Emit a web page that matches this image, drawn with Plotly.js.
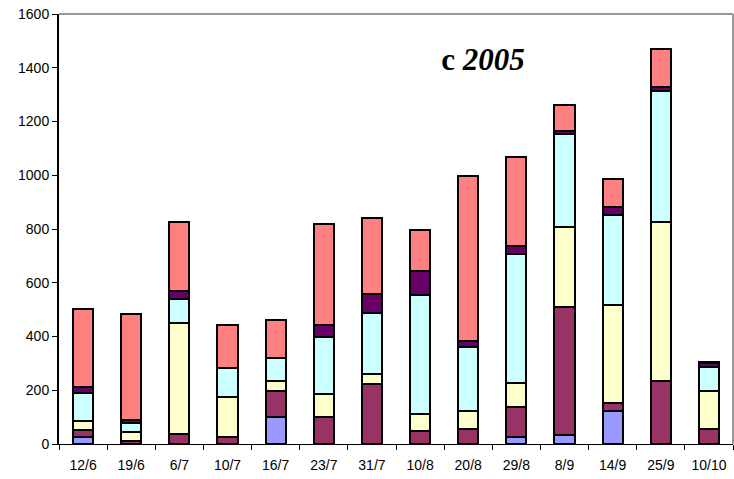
<!DOCTYPE html>
<html>
<head>
<meta charset="utf-8">
<script src="https://cdn.plot.ly/plotly-3.0.1.min.js"></script>
<style>
  html, body { margin: 0; padding: 0; background: #fff; }
  #plot { width: 734px; height: 479px; }
</style>
</head>
<body>
<div id="plot"></div>
<script>
// sampling dates
let dates = ["12/6", "19/6", "6/7", "10/7", "16/7", "23/7", "31/7", "10/8", "20/8", "29/8", "8/9", "14/9", "25/9", "10/10"];

// stacked values, bottom to top
let seriesA = [26, 0, 0, 0, 102, 0, 0, 0, 0, 27, 33, 123, 0, 0];
let seriesB = [26, 12, 36, 25, 95, 102, 222, 50, 56, 112, 478, 31, 236, 56];
let seriesC = [35, 34, 415, 151, 39, 83, 37, 62, 68, 89, 297, 363, 589, 141];
let seriesD = [104, 31, 88, 106, 83, 214, 229, 442, 238, 478, 344, 335, 489, 91];
let seriesE = [22, 12, 31, 0, 0, 44, 69, 91, 22, 31, 13, 31, 15, 14];
let seriesF = [290, 393, 256, 161, 142, 375, 284, 151, 612, 331, 96, 103, 140, 3];

let colors = ["#9999FF", "#993366", "#FFFFCC", "#CCFFFF", "#660066", "#FF8080"];
let allSeries = [seriesA, seriesB, seriesC, seriesD, seriesE, seriesF];

// one bar trace per series
let data = allSeries.map((vals, i) => ({
    x: dates,
    y: vals,
    type: "bar",
    marker: { color: colors[i], line: { color: "#000000", width: 2 } },
    hoverinfo: "x+y"
}));

let layout = {
    width: 734,
    height: 479,
    barmode: "stack",
    bargap: 0.58,
    showlegend: false,
    paper_bgcolor: "#ffffff",
    plot_bgcolor: "#ffffff",
    font: { family: "Liberation Sans, Arial, sans-serif", size: 14, color: "#000000" },
    margin: { l: 59, r: 1, t: 14, b: 35, pad: 0 },
    title: {
        text: "<b>c</b> <b><i>2005</i></b>",
        font: { family: "Liberation Serif, Times New Roman, serif", size: 31, color: "#000000" },
        x: 0.658,
        xanchor: "center",
        xref: "container",
        y: 0.877,
        yanchor: "middle",
        yref: "container"
    },
    xaxis: {
        type: "category",
        showline: true,
        linecolor: "#000000",
        linewidth: 1,
        ticks: "outside",
        tickson: "boundaries",
        ticklen: 5,
        tickcolor: "#000000",
        ticklabelstandoff: 8,
        showgrid: false,
        zeroline: false,
        tickfont: { size: 14 }
    },
    yaxis: {
        range: [0, 1600],
        tickvals: [0, 200, 400, 600, 800, 1000, 1200, 1400, 1600],
        showline: true,
        linecolor: "#000000",
        linewidth: 2,
        ticks: "outside",
        ticklen: 5,
        tickcolor: "#000000",
        showgrid: false,
        zeroline: false,
        tickfont: { size: 14 }
    },
    shapes: [
        // grey plot-area frame on the top and right
        { type: "line", xref: "paper", yref: "paper", x0: 0, x1: 1, y0: 1, y1: 1, line: { color: "#999999", width: 2 } },
        { type: "line", xref: "paper", yref: "paper", x0: 1, x1: 1, y0: 0, y1: 1, line: { color: "#999999", width: 2 } }
    ]
};

Plotly.newPlot("plot", data, layout, { displayModeBar: false, staticPlot: true });
</script>
</body>
</html>
